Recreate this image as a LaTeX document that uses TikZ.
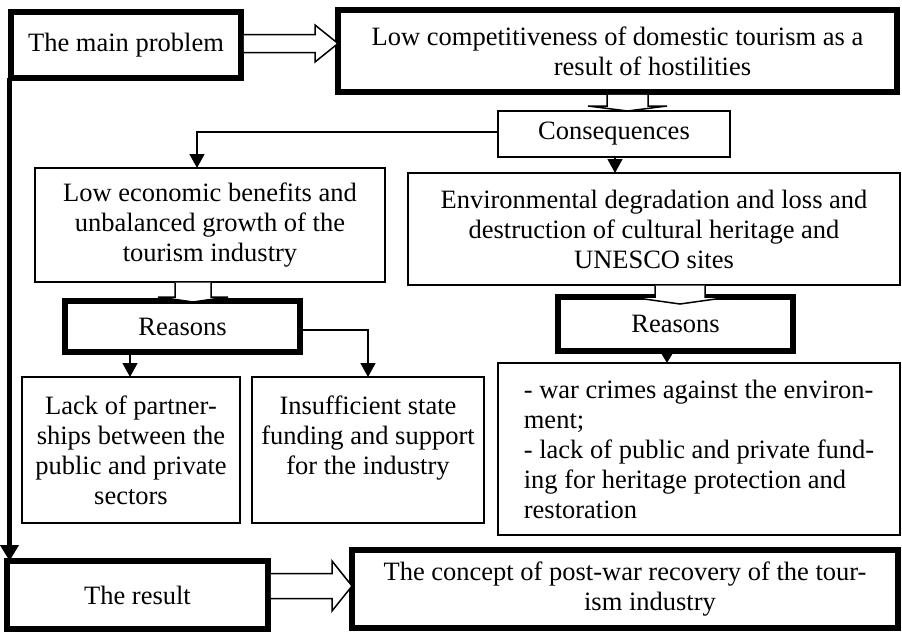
\documentclass[tikz,border=0pt]{standalone}
\usepackage{fontspec}
\setmainfont{Liberation Serif}
\usetikzlibrary{arrows.meta,calc}

% hollow block arrow pointing down: #1 shaft start, #2 tip, #3 shaft half width,
% #4 head half width, #5 head length
\newcommand\downblock[5]{%
  \draw[hollowarrow] ($(#1)+(-#3,0)$) -- ($(#2)+(-#3,-#5)$) -- ($(#2)+(-#4,-#5)$)
    -- (#2) -- ($(#2)+(#4,-#5)$) -- ($(#2)+(#3,-#5)$) -- ($(#1)+(#3,0)$);}
% hollow block arrow pointing right
\newcommand\rightblock[5]{%
  \draw[hollowarrow] ($(#1)+(0,-#3)$) -- ($(#2)+(-#5,-#3)$) -- ($(#2)+(-#5,-#4)$)
    -- (#2) -- ($(#2)+(-#5,#4)$) -- ($(#2)+(-#5,#3)$) -- ($(#1)+(0,#3)$);}

\begin{document}
\begin{tikzpicture}[x=1pt,y=-1pt,
  every node/.style={font=\fontsize{26.5}{30}\selectfont, align=center,
    inner sep=0pt, outer sep=0pt},
  thickbox/.style={draw, line width=5.5pt},
  thinbox/.style={draw, line width=1.3pt},
  hollowarrow/.style={draw, fill=white, line width=1.5pt, line join=miter},
  thinarrow/.style={draw, line width=1.3pt, -{Triangle[length=14pt,width=15pt]}},
]
\useasboundingbox (0,0) rectangle (902,632);
\fill[white] (0,0) rectangle (902,632);

% boxes
\node[thickbox, minimum width=230pt, minimum height=66pt] (main) at (126,45)
  {\raisebox{6pt}{The main problem}};
\node[thickbox, minimum width=559pt, minimum height=82pt] (lowcomp) at (617.5,51)
  {Low competitiveness of domestic tourism as a\\\hspace*{70pt}result of hostilities};
\node[thinbox, minimum width=232pt, minimum height=46pt] (conseq) at (614,134)
  {\raisebox{-5pt}{Consequences}};
\node[thinbox, minimum width=350pt, minimum height=114pt] (lowecon) at (210,225)
  {Low economic benefits and\\unbalanced growth of the\\tourism industry};
\node[thinbox, minimum width=492pt, minimum height=112pt] (env) at (654,229)
  {Environmental degradation and loss and\\destruction of cultural heritage and\\UNESCO sites};
\node[thickbox, minimum width=235pt, minimum height=51pt] (reasonsL) at (182.5,326.5) {Reasons};
\node[thickbox, minimum width=235pt, minimum height=54pt] (reasonsR) at (675.5,324) {Reasons};
\node[thinbox, minimum width=218pt, minimum height=146pt] (lack) at (131,450)
  {Lack of partner-\\ships between the\\public and private\\sectors};
\node[thinbox, minimum width=232pt, minimum height=146pt] (insuff) at (368,450)
  {Insufficient state\\funding and support\\for the industry\\\mbox{}};
\node[thinbox, minimum width=402pt, minimum height=172pt, align=left]
  (list) at (699,449)
  {- war crimes against the environ-\\ment;\\- lack of public and private fund-\\ing for heritage protection and\\restoration};
\node[thickbox, minimum width=261pt, minimum height=68pt] (result) at (137.5,595) {The result};
\node[thickbox, minimum width=546pt, minimum height=78pt] (concept) at (625,589)
  {The concept of post-war recovery of the tour-\\\hspace*{50pt}ism industry};

% thin connectors
\coordinate (c0) at ($(conseq.west)+(0,-2)$);
\coordinate (c1) at (lowecon.north -| 197,0);
\draw[thinarrow] (c0) -| (c1);

\coordinate (e0) at ($(conseq.south)+(1,0)$);
\coordinate (e1) at (e0 |- env.north);
\draw[thinarrow] (e0) -- (e1);

\coordinate (l0) at ($(reasonsL.south)+(-52.5,0)$);
\coordinate (l1) at (l0 |- lack.north);
\draw[thinarrow] (l0) -- (l1);

\coordinate (i0) at ($(reasonsL.east)+(0,3.5)$);
\draw[thinarrow] (i0) -| (insuff.north);

\coordinate (r0) at ($(reasonsR.south)+(-8.5,0)$);
\coordinate (r1) at (r0 |- list.north);
\draw[thinarrow, -{Triangle[length=12pt,width=14pt]}] (r0) -- (r1);

% thick side line from the main problem to the result
\coordinate (m0) at ($(main.south west)+(-1.5,0)$);
\coordinate (m1) at (m0 |- result.north);
\draw[line width=5.5pt, -{Triangle[length=16pt,width=18pt]}] (m0) -- (m1);

% hollow block arrows
\coordinate (s1) at ($(main.east)+(2.75,-1.5)$);
\coordinate (t1) at (lowcomp.west |- s1);
\rightblock{s1}{t1}{9}{18.5}{23}

\coordinate (s2) at ($(lowcomp.south)+(10,2.75)$);
\coordinate (t2) at (s2 |- conseq.north);
\downblock{s2}{t2}{20.5}{39.5}{5}

\coordinate (s3) at ($(lowecon.south)+(-17,0.65)$);
\coordinate (t3a) at (s3 |- reasonsL.north);
\coordinate (t3) at ($(t3a)+(0,1)$);
\downblock{s3}{t3}{18}{35}{5}

\coordinate (s4) at ($(env.south)+(26,0.65)$);
\coordinate (t4a) at (s4 |- reasonsR.north);
\coordinate (t4) at ($(t4a)+(0,7)$);
\downblock{s4}{t4}{25}{50}{7}

\coordinate (s5) at ($(result.east)+(2.75,-9)$);
\coordinate (t5) at (concept.west |- s5);
\rightblock{s5}{t5}{12.5}{25}{20}
\end{tikzpicture}
\end{document}
